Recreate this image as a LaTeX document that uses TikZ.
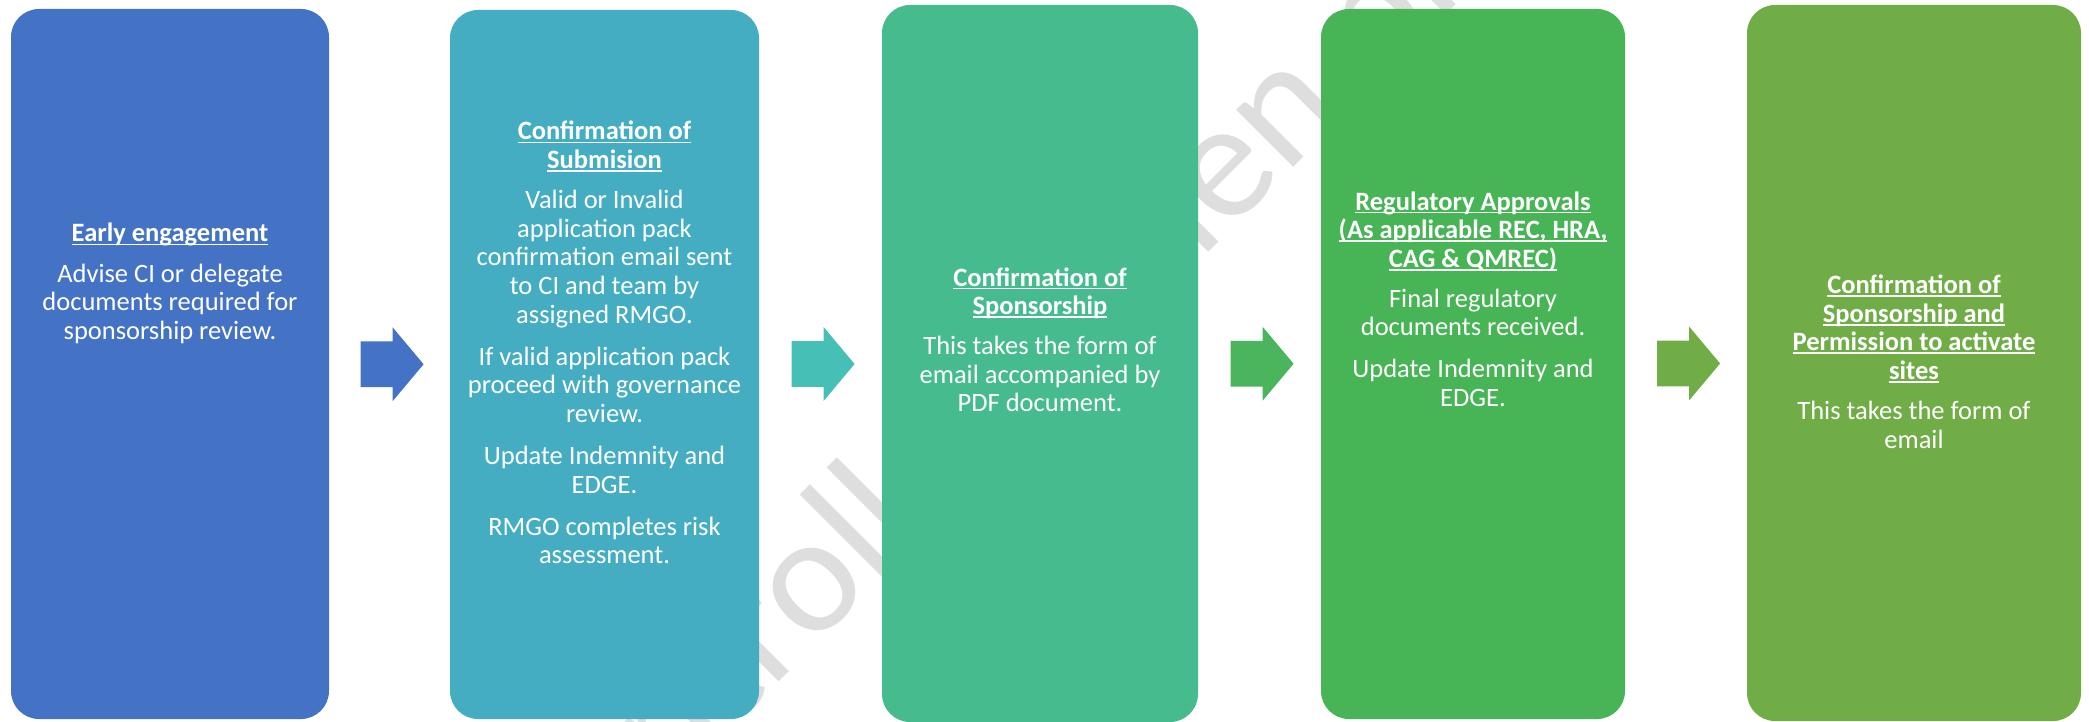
\documentclass[tikz,border=0pt]{standalone}
\usepackage{fontspec}
\setmainfont{Carlito}
\usetikzlibrary{shapes.arrows,calc}

\definecolor{stepOne}{HTML}{4472C4}
\definecolor{stepTwo}{HTML}{44ADC2}
\definecolor{stepThree}{HTML}{45BB8E}
\definecolor{stepFour}{HTML}{47B455}
\definecolor{stepFive}{HTML}{70AD47}
\definecolor{arrowTwo}{HTML}{46BFB6}
\definecolor{arrowThree}{HTML}{4AB55C}
\definecolor{stampGrey}{HTML}{DEDEDE}

% bold heading with a flat underline
\newcommand\ulTitle[1]{\setbox0=\hbox{\bfseries #1}\rlap{\rule[-1.7pt]{\wd0}{0.85pt}}\box0}

\begin{document}
\begin{tikzpicture}[x=0.5pt, y=-0.5pt,
    stepBox/.style={rounded corners=14pt, inner sep=0pt},
    stepText/.style={anchor=base, inner sep=0pt, text=white,
        font=\fontsize{13.25}{14.3}\selectfont},
    flowArrow/.style={single arrow, single arrow head extend=7pt,
        single arrow tip angle=100, minimum height=31.5pt,
        inner xsep=0pt, inner ysep=11.25pt}]
    \useasboundingbox (0,0) rectangle (2089,722);
    \clip (0,0) rectangle (2089,722);

    % stamp behind everything
    \node[rotate=45, text=stampGrey, font=\fontsize{84.5}{90}\selectfont] (stamp) at (1042,355) {Uncontrolled when printed};

    % the five stages
    \node[stepBox, fill=stepOne, minimum width=159pt, minimum height=355pt] (early) at (170,364) {};
    \node[stepBox, fill=stepTwo, minimum width=154.5pt, minimum height=354.5pt] (submission) at (604.5,364.5) {};
    \node[stepBox, fill=stepThree, minimum width=158pt, minimum height=358.5pt] (sponsorship) at (1040,363.5) {};
    \node[stepBox, fill=stepFour, minimum width=152pt, minimum height=355pt] (approvals) at (1473,364) {};
    \node[stepBox, fill=stepFive, minimum width=167pt, minimum height=358pt] (activation) at (1914,363) {};

    % block arrows in the gaps
    \node[flowArrow, fill=stepOne] (arrowA) at ($(early.east)!0.5!(submission.west)+(-7,0)$) {};
    \node[flowArrow, fill=arrowTwo] (arrowB) at ($(submission.east)!0.5!(sponsorship.west)+(-7,0)$) {};
    \node[flowArrow, fill=arrowThree] (arrowC) at ($(sponsorship.east)!0.5!(approvals.west)+(-7,0)$) {};
    \node[flowArrow, fill=stepFive] (arrowD) at ($(approvals.east)!0.5!(activation.west)+(-7,0)$) {};

    % texts
    \node[stepText] (earlyText) at (170,242) {\begin{tabular}[t]{@{}c@{}}
        \ulTitle{Early engagement}\\[5.75pt]
        Advise CI or delegate\\ documents required for\\ sponsorship review.
    \end{tabular}};
    \node[stepText] (submissionText) at (604.5,140) {\begin{tabular}[t]{@{}c@{}}
        \ulTitle{Confirmation of}\\ \ulTitle{Submision}\\[5.75pt]
        Valid or Invalid\\ application pack\\ confirmation email sent\\ to CI and team by\\ assigned RMGO.\\[6.75pt]
        If valid application pack\\ proceed with governance\\ review.\\[6.75pt]
        Update Indemnity and\\ EDGE.\\[6.75pt]
        RMGO completes risk\\ assessment.
    \end{tabular}};
    \node[stepText] (sponsorshipText) at (1040,286) {\begin{tabular}[t]{@{}c@{}}
        \ulTitle{Confirmation of}\\ \ulTitle{Sponsorship}\\[5.75pt]
        This takes the form of\\ email accompanied by\\ PDF document.
    \end{tabular}};
    \node[stepText] (approvalsText) at (1473,210) {\begin{tabular}[t]{@{}c@{}}
        \ulTitle{Regulatory Approvals}\\ \ulTitle{(As applicable REC, HRA,}\\ \ulTitle{CAG \& QMREC)}\\[5.75pt]
        Final regulatory\\ documents received.\\[6.75pt]
        Update Indemnity and\\ EDGE.
    \end{tabular}};
    \node[stepText] (activationText) at (1914,293.5) {\begin{tabular}[t]{@{}c@{}}
        \ulTitle{Confirmation of}\\ \ulTitle{Sponsorship and}\\ \ulTitle{Permission to activate}\\ \ulTitle{sites}\\[5.75pt]
        This takes the form of\\ email
    \end{tabular}};
\end{tikzpicture}
\end{document}
